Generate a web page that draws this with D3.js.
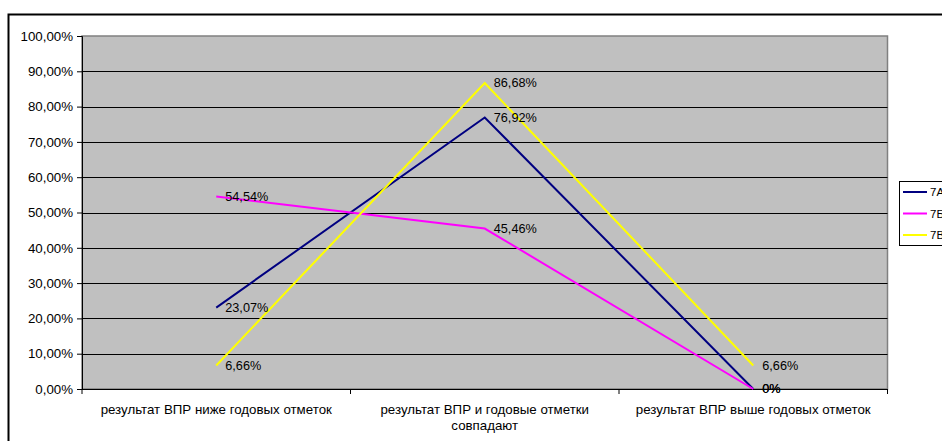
<!DOCTYPE html>
<html><head><meta charset="utf-8">
<script src="https://cdn.jsdelivr.net/npm/d3@7"></script>
<style>body{margin:0;background:#fff;}svg{display:block;font-family:"Liberation Sans",Arial,sans-serif;}</style>
</head><body>
<svg id="c" width="942" height="441"></svg>
<script>
const categories = [["результат ВПР ниже годовых отметок"], ["результат ВПР и годовые отметки", "совпадают"], ["результат ВПР выше годовых отметок"]];
const seriesNames = ["7А", "7Б", "7В"];
const values7A = [23.07, 76.92, 0];
const values7B = [54.54, 45.46, 0];
const values7V = [6.66, 86.68, 6.66];
const labels7A = ["23,07%", "76,92%", "0%"];
const labels7B = ["54,54%", "45,46%", "0%"];
const labels7V = ["6,66%", "86,68%", "6,66%"];
const yTicks = [0,10,20,30,40,50,60,70,80,90,100];
const colors = ["#000080", "#FF00FF", "#FFFF00"];

const series = [
  {name: seriesNames[0], values: values7A, labels: labels7A, color: colors[0]},
  {name: seriesNames[1], values: values7B, labels: labels7B, color: colors[1]},
  {name: seriesNames[2], values: values7V, labels: labels7V, color: colors[2]}
];

const svg = d3.select("#c");
const L = 82, R = 887.5, T = 36, B = 389;

// outer border
svg.append("rect").attr("x", 8.5).attr("y", 14.5).attr("width", 1000).attr("height", 1000)
  .attr("fill", "#fff").attr("stroke", "#000").attr("stroke-width", 2);

const x = d3.scaleBand().domain(d3.range(categories.length)).range([L, R]).padding(0);
const y = d3.scaleLinear().domain([0, 100]).range([B, T]);

// plot area
svg.append("rect").attr("x", L).attr("y", T).attr("width", R - L).attr("height", B - T)
  .attr("fill", "#C0C0C0").attr("stroke", "#808080").attr("stroke-width", 1.5);

// gridlines
svg.append("g").selectAll("line").data(yTicks.filter(t => t > 0 && t < 100)).join("line")
  .attr("x1", L).attr("x2", R).attr("y1", d => Math.round(y(d)) + 0.5).attr("y2", d => Math.round(y(d)) + 0.5)
  .attr("stroke", "#000").attr("stroke-width", 1);

// y axis
const yAxis = d3.axisLeft(y).tickValues(yTicks).tickSize(5).tickPadding(4)
  .tickFormat(d => d3.format(".2f")(d).replace(".", ",") + "%");
const yg = svg.append("g").attr("transform", `translate(${L},0)`).call(yAxis);
yg.select(".domain").attr("stroke", "#000");
yg.selectAll(".tick line").attr("stroke", "#000");
yg.selectAll(".tick text").attr("font-size", 13.3).attr("fill", "#000").attr("font-family", "Liberation Sans, Arial, sans-serif");

// x axis
const xg = svg.append("g").attr("transform", `translate(0,${B})`);
xg.append("line").attr("x1", L).attr("x2", R).attr("y1", 0.5).attr("y2", 0.5).attr("stroke", "#000");
const tickXs = d3.range(categories.length + 1).map(i => i < categories.length ? x(i) : x(categories.length - 1) + x.bandwidth());
xg.selectAll("line.t").data(tickXs).join("line").attr("class", "t")
  .attr("x1", d => d).attr("x2", d => d).attr("y1", 0).attr("y2", 5).attr("stroke", "#000");
categories.forEach((lines, i) => {
  const t = xg.append("text").attr("text-anchor", "middle").attr("font-size", 13.3).attr("fill", "#000")
    .attr("x", x(i) + x.bandwidth() / 2).attr("y", 25);
  lines.forEach((ln, j) => t.append("tspan").attr("x", x(i) + x.bandwidth() / 2).attr("dy", j === 0 ? 0 : 16).text(ln));
});

const cx = i => x(i) + x.bandwidth() / 2;
const line = d3.line().x((d, i) => cx(i)).y(d => y(d));

series.forEach(s => {
  svg.append("path").datum(s.values).attr("d", line).attr("fill", "none")
    .attr("stroke", s.color).attr("stroke-width", 2);
});
series.forEach(s => {
  svg.append("g").selectAll("text").data(s.values).join("text")
    .attr("x", (d, i) => cx(i) + 9).attr("y", d => y(d)).attr("dy", "0.35em")
    .attr("font-size", 12.7).attr("fill", "#000")
    .text((d, i) => s.labels[i]);
});

// legend
const lg = svg.append("g");
lg.append("rect").attr("x", 899.5).attr("y", 181.5).attr("width", 100).attr("height", 64)
  .attr("fill", "#fff").attr("stroke", "#000");
series.forEach((s, i) => {
  const yy = 192 + i * 21.5;
  lg.append("line").attr("x1", 903).attr("x2", 927).attr("y1", yy).attr("y2", yy)
    .attr("stroke", s.color).attr("stroke-width", 2);
  lg.append("text").attr("x", 930).attr("y", yy).attr("dy", "0.35em").attr("font-size", 11.5).attr("fill", "#000").text(s.name);
});
</script>
</body></html>
